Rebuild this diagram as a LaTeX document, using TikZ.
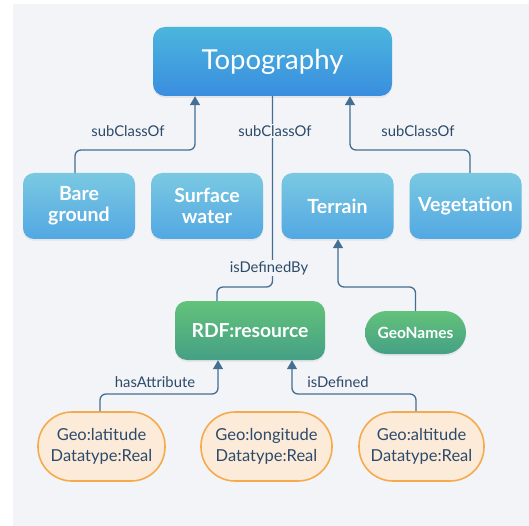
\documentclass[tikz,border=0pt]{standalone}
\usepackage{fontspec}
\setmainfont{Lato}
\usetikzlibrary{arrows.meta,shadows}
\definecolor{bg}{HTML}{F3F4F7}
\definecolor{linec}{HTML}{456E93}
\definecolor{labc}{HTML}{2C4A6A}
\definecolor{topT}{HTML}{4BB6DD}
\definecolor{topB}{HTML}{3A8DDF}
\definecolor{bluT}{HTML}{7AC9E2}
\definecolor{bluB}{HTML}{52A8E2}
\definecolor{grnT}{HTML}{63C27A}
\definecolor{grnB}{HTML}{45A085}
\definecolor{ovF}{HTML}{FDEBDA}
\definecolor{ovD}{HTML}{F5AA4C}
\tikzset{
  x=1pt, y=-1pt,
  topbox/.style={rounded corners=12pt, top color=topT, bottom color=topB, text=white,
    minimum width=239pt, minimum height=69pt, font=\fontsize{27.5}{30}\selectfont,
    drop shadow={opacity=0.12, shadow xshift=0pt, shadow yshift=-2pt}},
  bluebox/.style={rounded corners=11pt, top color=bluT, bottom color=bluB, text=white,
    minimum width=112pt, minimum height=66pt, align=center,
    font=\fontsize{19.5}{21}\selectfont\bfseries,
    drop shadow={opacity=0.10, shadow xshift=0pt, shadow yshift=-2pt}},
  greenbox/.style={top color=grnT, bottom color=grnB, text=white,
    drop shadow={opacity=0.10, shadow xshift=0pt, shadow yshift=-2pt}},
  ovalbox/.style={rounded corners=34pt, fill=ovF, draw=ovD, line width=1.6pt,
    minimum width=127pt, minimum height=69pt, align=center, text=labc,
    font=\fontsize{16.5}{21}\selectfont},
  conn/.style={draw=linec, line width=1.3pt, rounded corners=6pt},
  arr/.style={conn, -{Triangle[width=10pt,length=9pt]}},
  lab/.style={text=labc, fill=bg, inner sep=1.5pt, font=\fontsize{14.8}{17}\selectfont},
}
\begin{document}
\begin{tikzpicture}
\useasboundingbox (0,0) rectangle (529,526);
\fill[white] (0,0) rectangle (529,526);
\fill[bg] (13,4) rectangle (529,526);

\node[topbox] (topo) at (272.5,61.5) {Topography};
\node[bluebox] (bare) at (79,206) {Bare\\ground};
\node[bluebox] (water) at (207,206) {Surface\\water};
\node[bluebox] (terrain) at (337.5,206) {Terrain};
\node[bluebox] (veg) at (465.5,206) {Vegetation};
\node[greenbox, rounded corners=12pt, minimum width=150pt, minimum height=59pt,
  font=\fontsize{19.3}{21}\selectfont\bfseries] (rdf) at (250,330.5) {RDF:resource};
\node[greenbox, rounded corners=21.5pt, minimum width=101pt, minimum height=43pt,
  font=\fontsize{15.5}{17}\selectfont\bfseries] (geon) at (415.5,332.5) {GeoNames};
\node[ovalbox] (lat) at (101.5,446.5) {Geo:latitude\\Datatype:Real};
\node[ovalbox, minimum width=131pt] (lon) at (266.5,446.5) {Geo:longitude\\Datatype:Real};
\node[ovalbox, minimum width=125pt] (alt) at (421.5,446.5) {Geo:altitude\\Datatype:Real};

\coordinate (c1) at (195,150);
\coordinate (c2) at (350,150);
\coordinate (c3) at (217,287);
\coordinate (c4) at (338,287);
\coordinate (c5) at (218,394);
\coordinate (c6) at (292,394);

\draw[arr] ([xshift=-4pt]bare.north) |- (c1) -- (c1 |- topo.south);
\draw[arr] ([xshift=4.5pt]veg.north) |- (c2) -- (c2 |- topo.south);
\draw[conn] (topo.south) |- (c3) -- (c3 |- rdf.north);
\draw[arr] (geon.north) |- (c4) -- (c4 |- terrain.south);
\draw[arr] ([xshift=-1.5pt]lat.north) |- (c5) -- (c5 |- rdf.south);
\draw[arr] ([xshift=-5.5pt]alt.north) |- (c6) -- (c6 |- rdf.south);

\node[lab] (l1) at (128,131) {subClassOf};
\node[lab] (l2) at (275,131) {subClassOf};
\node[lab] (l3) at (418,131) {subClassOf};
\node[lab] (l4) at (269,268) {isDefinedBy};
\node[lab] (l5) at (155,382) {hasAttribute};
\node[lab] (l6) at (338,382) {isDefined};
\end{tikzpicture}
\end{document}
